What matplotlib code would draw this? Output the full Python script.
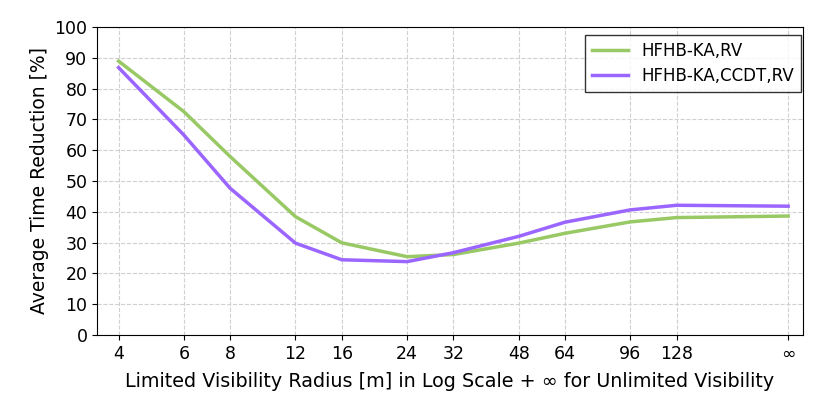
import numpy as np
import matplotlib
matplotlib.use('Agg')
import matplotlib.pyplot as plt

# visibility radius, with 256 standing in for "unlimited"
radius = [4, 6, 8, 12, 16, 24, 32, 48, 64, 96, 128, 256]
tick_labels = ['4', '6', '8', '12', '16', '24', '32', '48', '64', '96', '128', '∞']

hfhb_rv = [88.9, 72.5, 57.9, 38.4, 29.9, 25.4, 26.1, 29.8, 33.0, 36.7, 38.1, 38.6]
hfhb_ccdt_rv = [86.8, 64.9, 47.6, 29.8, 24.4, 23.8, 26.7, 32.0, 36.6, 40.6, 42.1, 41.8]

fig = plt.figure(figsize=(8.3, 4.15), dpi=100)
ax = fig.add_axes([0.117, 0.193, 0.85, 0.742])

ax.plot(radius, hfhb_rv, color='#98c965', lw=2.5, label='HFHB-KA,RV')
ax.plot(radius, hfhb_ccdt_rv, color='#9b66ff', lw=2.5, label='HFHB-KA,CCDT,RV')

ax.set_xscale('log')
ax.set_xlim(3.5, 280)
ax.set_xticks(radius)
ax.set_xticklabels(tick_labels)
ax.minorticks_off()
ax.set_ylim(0, 100)
ax.set_yticks(np.arange(0, 101, 10))
ax.tick_params(labelsize=12.5)

ax.set_xlabel('Limited Visibility Radius [m] in Log Scale + ∞ for Unlimited Visibility',
              fontsize=13.8, labelpad=7)
ax.set_ylabel('Average Time Reduction [%]', fontsize=13.5)
ax.grid(True, ls='--', color='#d0d0d0', lw=0.8)

leg = ax.legend(loc='upper right', bbox_to_anchor=(0.998, 0.974), borderaxespad=0,
                fontsize=12, fancybox=False, edgecolor='black',
                handlelength=2.2, labelspacing=0.45, borderpad=0.4)
leg.get_frame().set_linewidth(1.0)

fig.savefig('out.png', dpi=100)
